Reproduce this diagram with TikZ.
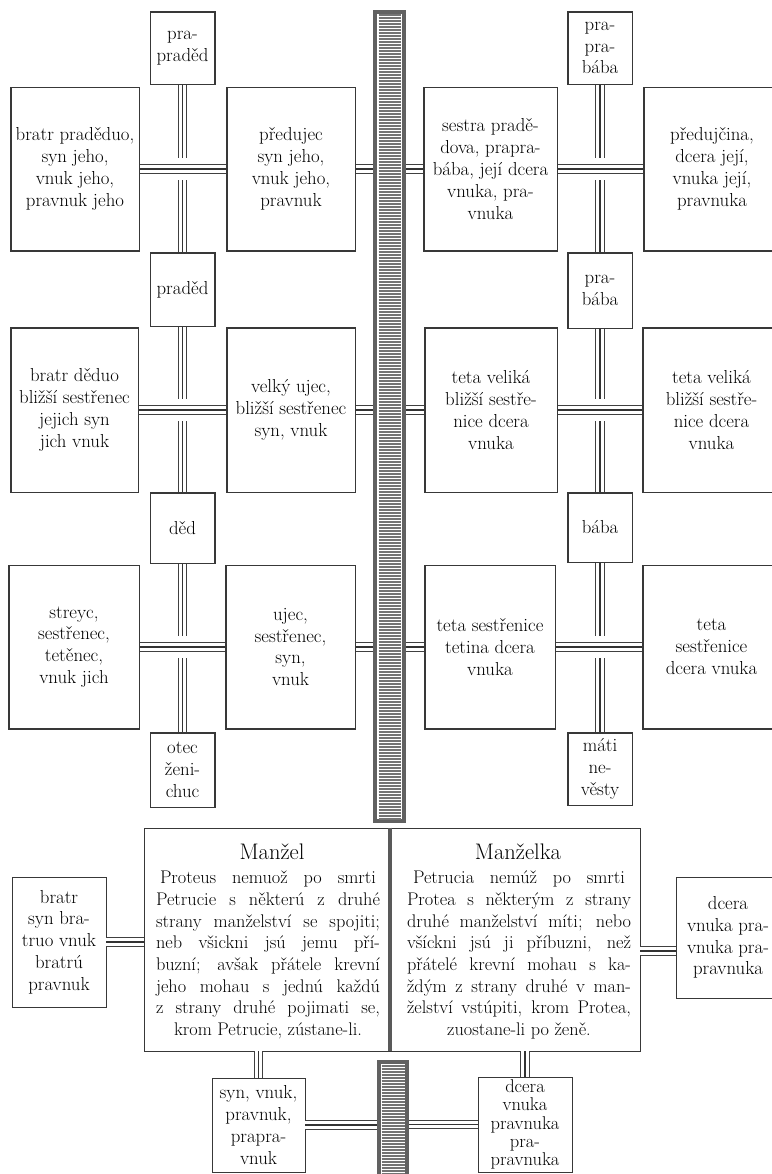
\documentclass[tikz,border=0pt]{standalone}
\begin{document}
\begin{tikzpicture}[x=1pt,y=-1pt,
  box/.style={draw=black!78, line width=0.9pt, inner sep=0pt, align=center, font=\fontsize{18.8}{21.8}\selectfont},
  txt/.style={inner sep=0pt, align=center, font=\fontsize{18.3}{21.7}\selectfont},
  link/.style={draw=black!80, line width=1.8pt, preaction={draw=black!75, line width=9.4pt}, preaction={draw=white, line width=7.4pt}},
  crosslink/.style={draw=black!80, line width=1.8pt, preaction={draw=white, line width=22pt}, preaction={draw=black!75, line width=9.4pt}, preaction={draw=white, line width=7.4pt}},
  barbox/.style={fill=black!62, draw=none, inner sep=0pt},
  stripe/.style={draw=black!55, line width=1.1pt},
  divider/.style={draw=black!65, line width=4pt}
]
\useasboundingbox (0,0) rectangle (771,1174);

% ---------- nodes (boxes) ----------
% row 1
\node[box, minimum width=128, minimum height=163] (L1) at (75,169) {bratr praděduo,\\syn jeho,\\vnuk jeho,\\pravnuk jeho};
\node[box, minimum width=128, minimum height=163] (C1) at (291,169) {předujec\\syn jeho,\\vnuk jeho,\\pravnuk};
\node[box, minimum width=133, minimum height=163] (R1) at (490.5,169) {sestra pradě-\\dova, prapra-\\bába, její dcera\\vnuka, pra-\\vnuka};
\node[box, minimum width=136, minimum height=163] (RR1) at (712,169) {předujčina,\\dcera její,\\vnuka její,\\pravnuka};
% row 2
\node[box, minimum width=127, minimum height=164] (L2) at (74.5,410) {bratr děduo\\bližší sestřenec\\jejich syn\\jich vnuk};
\node[box, minimum width=128, minimum height=164] (C2) at (291,410) {velký ujec,\\bližší sestřenec\\syn, vnuk};
\node[box, minimum width=132, minimum height=164] (R2) at (491,410) {teta veliká\\bližší sestře-\\nice dcera\\vnuka};
\node[box, minimum width=137, minimum height=164] (RR2) at (711.5,410) {teta veliká\\bližší sestře-\\nice dcera\\vnuka};
% row 3
\node[box, minimum width=130, minimum height=163] (L3) at (74,647) {streyc,\\sestřenec,\\tetěnec,\\vnuk jich};
\node[box, minimum width=129, minimum height=163] (C3) at (290.5,647) {ujec,\\sestřenec,\\syn,\\vnuk};
\node[box, minimum width=130, minimum height=163] (R3) at (490,647) {teta sestřenice\\tetina dcera\\vnuka};
\node[box, minimum width=137, minimum height=163] (RR3) at (711.5,647) {teta\\sestřenice\\dcera vnuka};
% small left column
\node[box, minimum width=64, minimum height=72] (T1) at (182.5,48) {pra-\\praděd};
\node[box, minimum width=64, minimum height=73] (P1) at (182.5,289.5) {praděd};
\node[box, minimum width=64, minimum height=70] (D1) at (182.5,528) {děd};
\node[box, minimum width=64, minimum height=74] (O1) at (182.5,770) {otec\\ženi-\\chuc};
% small right column
\node[box, minimum width=64, minimum height=72] (T2) at (600,48) {pra-\\pra-\\bába};
\node[box, minimum width=64, minimum height=75] (P2) at (600,290.5) {pra-\\bába};
\node[box, minimum width=64, minimum height=69] (B2) at (600,527.5) {bába};
\node[box, minimum width=64, minimum height=72] (M2) at (600,769) {máti\\ne-\\věsty};
% bottom part
\node[box, minimum width=94, minimum height=130] (bratrB) at (59,942) {bratr\\syn bra-\\truo vnuk\\bratrú\\pravnuk};
\node[box, minimum width=246, minimum height=223] (manzel) at (267,939.5) {};
\node[box, minimum width=250, minimum height=223] (manzelka) at (515,939.5) {};
\node[box, minimum width=104, minimum height=121] (dceraA) at (728,937.5) {dcera\\vnuka pra-\\vnuka pra-\\pravnuka};
\node[box, minimum width=93, minimum height=94] (syn) at (258.5,1125) {syn, vnuk,\\pravnuk,\\prapra-\\vnuk};
\node[box, minimum width=94, minimum height=95, font=\fontsize{18.5}{18.3}\selectfont] (dceraB) at (525,1124.5) {dcera\\vnuka\\pravnuka\\pra-\\pravnuka};

% texts of the couple box
\node[txt, font=\fontsize{22.5}{24}\selectfont] (manzelH) at (272,852) {Manžel};
\node[txt] (manzelT) at (268,955) {%
\makebox[216pt][s]{Proteus nemuož po smrti}\\
\makebox[224pt][s]{Petrucie s některú z druhé}\\
\makebox[224pt][s]{strany manželství se spojiti;}\\
\makebox[224pt][s]{neb všickni jsú jemu pří-}\\
\makebox[224pt][s]{buzní; avšak přátele krevní}\\
\makebox[224pt][s]{jeho mohau s jednú každú}\\
\makebox[224pt][s]{z strany druhé pojimati se,}\\
krom Petrucie, zústane-li.};
\node[txt, font=\fontsize{22.5}{24}\selectfont] (manzelkaH) at (518,852) {Manželka};
\node[txt] (manzelkaT) at (519,955) {%
\makebox[212pt][s]{Petrucia nemúž po smrti}\\
\makebox[224pt][s]{Protea s některým z strany}\\
\makebox[224pt][s]{druhé manželství míti; nebo}\\
\makebox[224pt][s]{všíckni jsú ji příbuzni, než}\\
\makebox[224pt][s]{přátelé krevní mohau s ka-}\\
\makebox[224pt][s]{ždým z strany druhé v man-}\\
\makebox[224pt][s]{želství vstúpiti, krom Protea,}\\
zuostane-li po ženě.};

% central bars
\node[barbox, minimum width=33, minimum height=813] (bar) at (389.5,416.5) {};
\node[barbox, minimum width=32, minimum height=120] (barB) at (393,1120) {};
\fill[white] ([xshift=4.5pt,yshift=-4pt]bar.north west) rectangle ([xshift=-4.5pt,yshift=4pt]bar.south east);
\fill[white] ([xshift=4.5pt,yshift=-4pt]barB.north west) rectangle ([xshift=-4.5pt]barB.south east);
\foreach \yy in {15,18,...,819} \draw[stripe] (378.5,\yy) -- (400.5,\yy);
\foreach \yy in {1066,1069,...,1174} \draw[stripe] (381.5,\yy) -- (404.5,\yy);
\draw[divider] (manzel.north east) -- (manzel.south east);

% ---------- connectors ----------
% vertical left
\draw[link] (T1.south) -- (P1.north);
\draw[link] (P1.south) -- (D1.north);
\draw[link] (D1.south) -- (O1.north);
% vertical right
\draw[link] (T2.south) -- (P2.north);
\draw[link] (P2.south) -- (B2.north);
\draw[link] (B2.south) -- (M2.north);
% horizontal crossing
\draw[crosslink] (L1.east) -- (C1.west);
\draw[crosslink] (L2.east) -- (C2.west);
\draw[crosslink] (L3.east) -- (C3.west);
\draw[crosslink] (R1.east) -- (RR1.west);
\draw[crosslink] (R2.east) -- (RR2.west);
\draw[crosslink] (R3.east) -- (RR3.west);
% to the bar
\draw[link] (C1.east) -- (C1.east -| bar.west);
\draw[link] (C2.east) -- (C2.east -| bar.west);
\draw[link] (C3.east) -- (C3.east -| bar.west);
\draw[link] (R1.west -| bar.east) -- (R1.west);
\draw[link] (R2.west -| bar.east) -- (R2.west);
\draw[link] (R3.west -| bar.east) -- (R3.west);
% bottom
\coordinate (kd) at (0,951);
\draw[link] (bratrB.east) -- (bratrB.east -| manzel.west);
\draw[link] (manzelka.east |- kd) -- (dceraA.west |- kd);
\draw[link] (syn.north |- manzel.south) -- (syn.north);
\draw[link] (dceraB.north |- manzelka.south) -- (dceraB.north);
\draw[link] (syn.east) -- (syn.east -| barB.west);
\draw[link] (dceraB.west -| barB.east) -- (dceraB.west);

% redraw box borders over connector underlays
\foreach \n in {L1,C1,R1,RR1,L2,C2,R2,RR2,L3,C3,R3,RR3,T1,P1,D1,O1,T2,P2,B2,M2}
  \draw[draw=black!78, line width=0.9pt] (\n.north west) rectangle (\n.south east);
\end{tikzpicture}
\end{document}
